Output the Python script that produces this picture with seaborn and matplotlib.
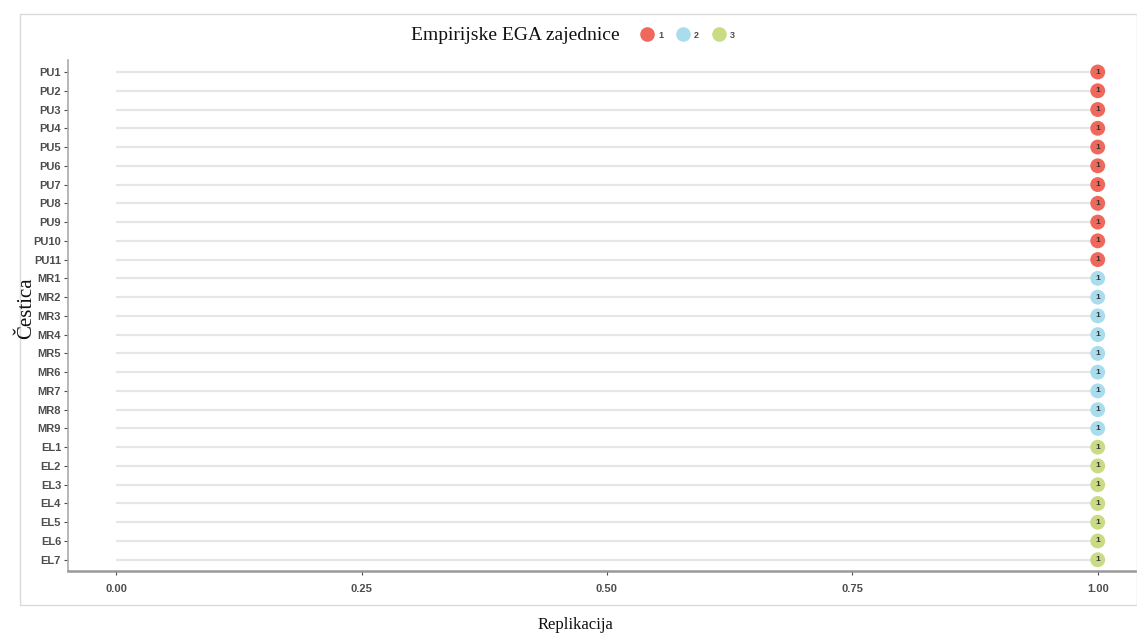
import numpy as np
import pandas as pd
import matplotlib
matplotlib.use("Agg")
import matplotlib.pyplot as plt
from matplotlib.patches import Rectangle
from matplotlib.lines import Line2D
import seaborn as sns

# items, community membership and replication proportion
items = ["PU1", "PU2", "PU3", "PU4", "PU5", "PU6", "PU7", "PU8", "PU9", "PU10", "PU11",
         "MR1", "MR2", "MR3", "MR4", "MR5", "MR6", "MR7", "MR8", "MR9",
         "EL1", "EL2", "EL3", "EL4", "EL5", "EL6", "EL7"]
community = ["1"] * 11 + ["2"] * 9 + ["3"] * 7
replication = [1.00] * 27
community_colors = {"1": "#F0685C", "2": "#A9DDEE", "3": "#C9DB85"}

df = pd.DataFrame({"item": items, "community": community, "replication": replication})

sns.set_theme(style="white")
plt.rcParams["font.family"] = ["Liberation Sans", "DejaVu Sans"]
serif = ["Liberation Serif", "DejaVu Serif"]

fig = plt.figure(figsize=(11.37, 6.37), dpi=100)
# outer panel border
fig.patches.append(Rectangle((20 / 1137, 1 - 605 / 637), 1 - 20 / 1137, (605 - 14) / 637,
                             transform=fig.transFigure, fill=False,
                             edgecolor="#DADADA", linewidth=1.0))
ax = fig.add_axes([68 / 1137, 1 - 571 / 637, (1137 - 68) / 1137, (571 - 60) / 637])

# lollipop stems
ax.hlines(y=df["item"], xmin=0, xmax=df["replication"], color="#E6E6E6", linewidth=1.6, zorder=1)
sns.scatterplot(data=df, x="replication", y="item", hue="community",
                palette=community_colors, s=115, edgecolor="none",
                legend=False, ax=ax, zorder=3)
for i, row in df.iterrows():
    ax.text(row["replication"], i, "1", ha="center", va="center",
            fontsize=6, fontweight="bold", color="#333333", zorder=4)

ax.set_xlim(-0.049, 1.04)
ax.set_ylim(len(items) - 0.4, -0.64)
ax.set_xticks([0, 0.25, 0.5, 0.75, 1.0])
ax.set_xticklabels(["0.00", "0.25", "0.50", "0.75", "1.00"])
ax.tick_params(axis="both", labelsize=8, colors="#4D4D4D", length=3, width=0.8,
               left=True, bottom=True, pad=2)
for lab in ax.get_xticklabels() + ax.get_yticklabels():
    lab.set_fontweight("bold")
    lab.set_color("#4D4D4D")
ax.tick_params(axis="x", pad=6)
for side in ["top", "right"]:
    ax.spines[side].set_visible(False)
ax.spines["left"].set_color("#AAAAAA")
ax.spines["left"].set_linewidth(1.2)
ax.spines["bottom"].set_color("#999999")
ax.spines["bottom"].set_linewidth(1.8)
ax.set_xlabel("")
ax.set_ylabel("")

fig.text(27 / 1137, 1 - 308 / 637, "Čestica", rotation=90, ha="center", va="center",
         fontsize=15, family=serif, color="#111111")
fig.text(575 / 1137, 1 - 625 / 637, "Replikacija", ha="center", va="center",
         fontsize=12, family=serif, color="#111111")
fig.text(515 / 1137, 1 - 35 / 637, "Empirijske EGA zajednice", ha="center", va="center",
         fontsize=14, family=serif, color="#111111")

handles = [Line2D([], [], marker="o", linestyle="", markersize=10.5,
                  markerfacecolor=community_colors[c], markeredgecolor="none")
           for c in ["1", "2", "3"]]
fig.legend(handles, ["1", "2", "3"], ncol=3, frameon=False, loc="center left",
           bbox_to_anchor=(633 / 1137, 1 - 35 / 637),
           handletextpad=0.5, columnspacing=1.5, handlelength=1.4,
           labelcolor="#4D4D4D", prop={"weight": "bold", "size": 6.5})

fig.savefig("out.png", dpi=100)
